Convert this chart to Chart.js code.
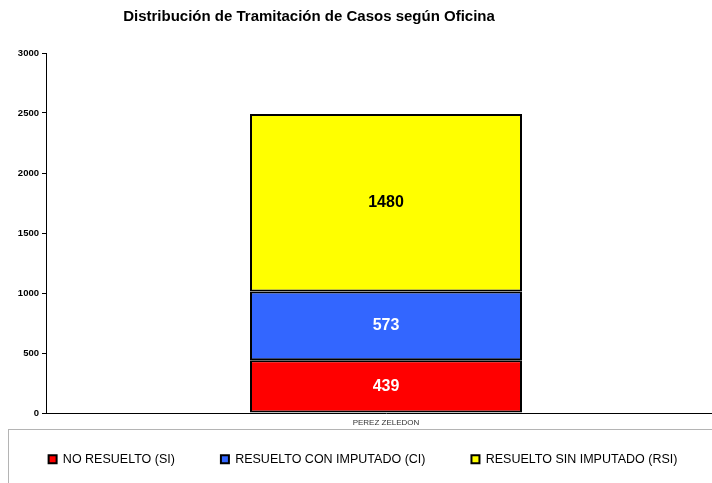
<!DOCTYPE html>
<html>
<head>
<meta charset="utf-8">
<script src="https://cdn.jsdelivr.net/npm/chart.js@4"></script>
<style>
  html, body { margin: 0; padding: 0; background: #fff; overflow: hidden; }
  #wrap { width: 726px; height: 483px; }
</style>
</head>
<body>
<div id="wrap"><canvas id="grafico" width="726" height="483"></canvas></div>
<script>
const titulo = "Distribución de Tramitación de Casos según Oficina";
const oficinas = ["PEREZ ZELEDON"];
const series = ["NO RESUELTO (SI)", "RESUELTO CON IMPUTADO (CI)", "RESUELTO SIN IMPUTADO (RSI)"];
const noResuelto = [439];
const conImputado = [573];
const sinImputado = [1480];
const colores = ["#ff0000", "#3366ff", "#ffff00"];
const coloresTexto = ["#ffffff", "#ffffff", "#000000"];
const ticksY = [0, 500, 1000, 1500, 2000, 2500, 3000];

// titulo y recuadro de la leyenda
const decoracion = {
  id: "decoracion",
  afterLayout(chart) {
    // el padding de la leyenda separa los items; subimos el texto
    chart.legend.top -= 22;
  },
  beforeDraw(chart) {
    const ctx = chart.ctx;
    ctx.save();
    ctx.strokeStyle = "#b4b4b4";
    ctx.lineWidth = 1;
    ctx.strokeRect(8.5, 429.5, 760, 100);
    ctx.fillStyle = "#000";
    ctx.font = "bold 15px 'Liberation Sans', Arial, sans-serif";
    ctx.textAlign = "center";
    ctx.textBaseline = "middle";
    ctx.fillText(titulo, 309, 17);
    ctx.restore();
  }
};

// valores dentro de cada segmento
const etiquetas = {
  id: "etiquetas",
  afterDatasetsDraw(chart) {
    const ctx = chart.ctx;
    ctx.save();
    ctx.font = "bold 16px 'Liberation Sans', Arial, sans-serif";
    ctx.textAlign = "center";
    ctx.textBaseline = "middle";
    chart.data.datasets.forEach((ds, i) => {
      chart.getDatasetMeta(i).data.forEach((bar, j) => {
        ctx.fillStyle = coloresTexto[i];
        ctx.fillText(ds.data[j], bar.x, (bar.y + bar.base) / 2);
      });
    });
    ctx.restore();
  }
};

const ctx = document.querySelector("#grafico");

let grafico = new Chart(ctx, {
  type: "bar",
  data: {
    labels: oficinas,
    datasets: [
      { label: series[0], data: noResuelto, backgroundColor: colores[0] },
      { label: series[1], data: conImputado, backgroundColor: colores[1] },
      { label: series[2], data: sinImputado, backgroundColor: colores[2] }
    ].map(d => Object.assign(d, { borderColor: "#000", borderWidth: 2, borderSkipped: false }))
  },
  options: {
    responsive: false,
    animation: false,
    layout: { padding: { top: 53, left: 0, right: 0, bottom: 0 } },
    datasets: { bar: { categoryPercentage: 1, barPercentage: 0.4 } },
    scales: {
      x: {
        stacked: true,
        grid: { display: false, drawTicks: false },
        border: { display: true, color: "#000", width: 1 },
        ticks: {
          color: "#333",
          padding: 5,
          autoSkip: false,
          maxRotation: 0,
          font: { family: "'Liberation Sans Narrow', 'Arial Narrow', 'Liberation Sans', sans-serif", size: 8 }
        },
        afterFit: s => { s.height = 16; }
      },
      y: {
        stacked: true,
        min: 0,
        max: 3000,
        afterBuildTicks: s => { s.ticks = ticksY.map(v => ({ value: v })); },
        grid: { drawOnChartArea: false, drawTicks: true, tickLength: 4, color: "#000" },
        border: { display: true, color: "#000", width: 1 },
        ticks: {
          color: "#000",
          padding: 3,
          callback: v => String(v),
          font: { family: "'Liberation Sans', Arial, sans-serif", size: 9.5, weight: "bold" }
        },
        afterFit: s => { s.width = 46; }
      }
    },
    plugins: {
      title: { display: false },
      tooltip: { enabled: false },
      legend: {
        position: "bottom",
        maxHeight: 54,
        labels: {
          color: "#000",
          boxWidth: 8,
          boxHeight: 8,
          padding: 46,
          font: { family: "'Liberation Sans', Arial, sans-serif", size: 12.5 }
        }
      }
    }
  },
  plugins: [decoracion, etiquetas]
});
</script>
</body>
</html>
